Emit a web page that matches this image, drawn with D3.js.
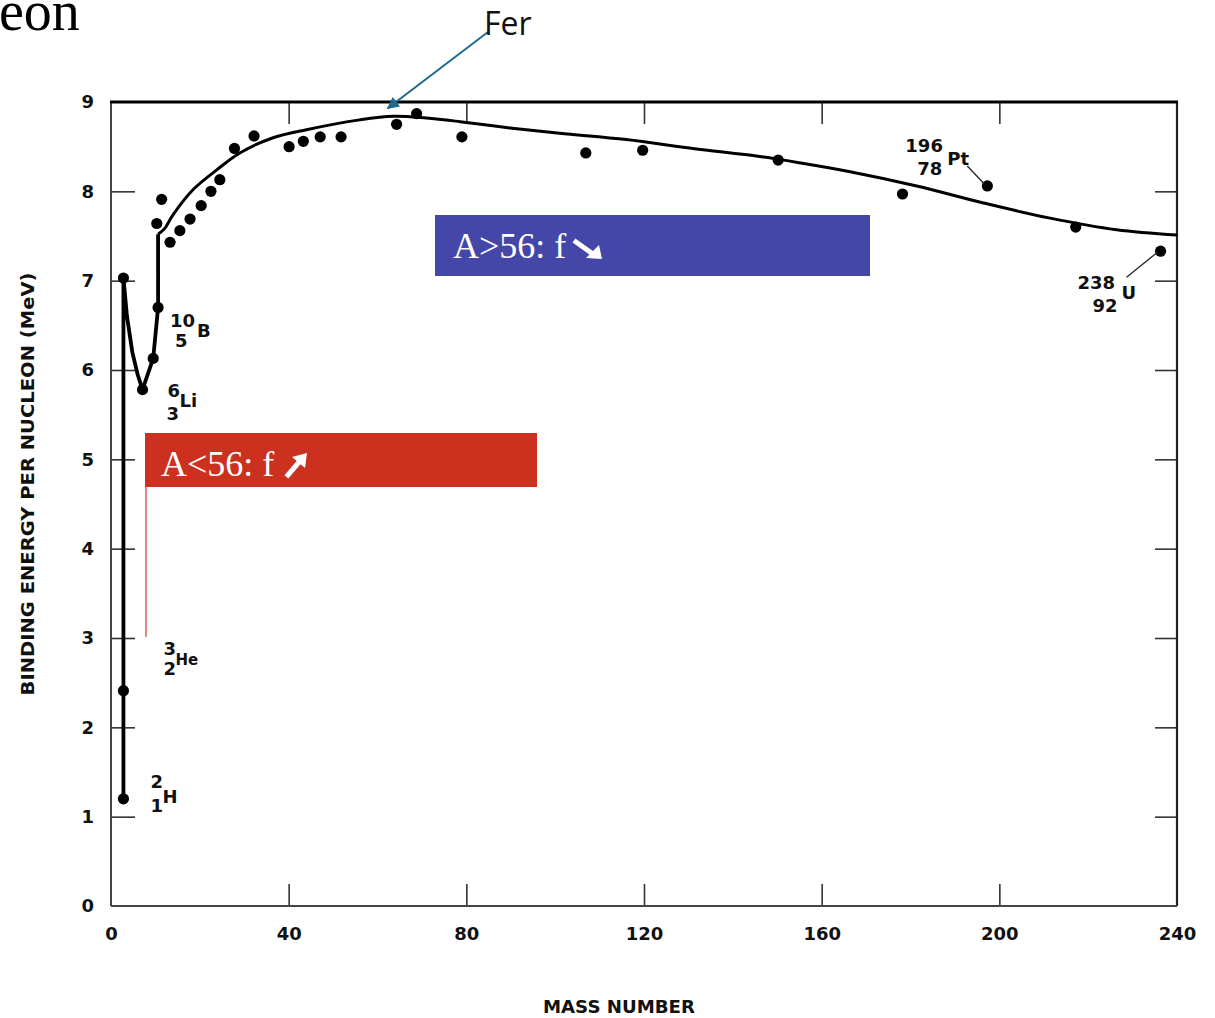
<!DOCTYPE html>
<html>
<head>
<meta charset="utf-8">
<script src="https://cdn.jsdelivr.net/npm/d3@7"></script>
<style>
  html, body { margin: 0; padding: 0; background: #fff; }
  svg { display: block; }
</style>
</head>
<body>
<svg id="chart" width="1215" height="1018"></svg>
<script>
// ---------- DATA ----------
const xTicks = [0, 40, 80, 120, 160, 200, 240];
const yTicks = [0, 1, 2, 3, 4, 5, 6, 7, 8, 9];

// measured nuclides (mass number A, binding energy per nucleon in MeV)
const pointA = [2.8, 2.8, 2.8, 7.1, 9.5, 10.6, 10.3, 11.4, 13.3, 15.5, 17.8, 20.3, 22.5, 24.5, 27.8, 32.2,
                40.1, 43.3, 47.1, 51.8, 64.3, 68.8, 79.0, 106.9, 119.7, 150.2, 178.2, 197.3, 217.2, 236.3];
const pointB = [1.20, 2.41, 7.03, 5.78, 6.13, 6.70, 7.64, 7.91, 7.43, 7.56, 7.69, 7.84, 8.00, 8.13, 8.48, 8.62,
                8.50, 8.56, 8.61, 8.61, 8.75, 8.87, 8.61, 8.43, 8.46, 8.35, 7.97, 8.06, 7.60, 7.33];

// jagged line through the light nuclei
const lightA = [2.8, 2.8, 2.8, 3.6, 4.8, 6.0, 7.1, 9.5, 10.6, 10.6];
const lightB = [1.20, 2.41, 7.03, 6.60, 6.20, 5.95, 5.78, 6.13, 6.70, 7.52];

// smooth trend curve
const curveA = [10.6, 12.0, 14.0, 18.5, 23.8, 29.0, 36.5, 44.0, 56.0, 63.6, 71.0, 78.6, 89.8, 101.0,
                116.0, 131.0, 146.0, 155.0, 166.4, 181.4, 196.4, 211.4, 226.4, 240.0];
const curveB = [7.52, 7.58, 7.74, 8.02, 8.24, 8.43, 8.60, 8.69, 8.80, 8.84, 8.82, 8.78, 8.71, 8.65,
                8.58, 8.48, 8.39, 8.32, 8.22, 8.06, 7.87, 7.70, 7.57, 7.51];

// nuclide labels
const nuclideMass = ["2", "3", "6", "10", "196", "238"];
const nuclideZ    = ["1", "2", "3", "5", "78", "92"];
const nuclideSym  = ["H", "He", "Li", "B", "Pt", "U"];
const nuclideA    = [2.8, 2.8, 7.1, 10.6, 197.3, 236.3];
const nuclideB    = [1.20, 2.41, 5.78, 6.70, 8.06, 7.33];

const xTitle = "MASS NUMBER";
const yTitle = "BINDING ENERGY PER NUCLEON (MeV)";
const pageTitle = "eon";
const ironLabel = "Fer";
const ironA = 62.3, ironB = 8.93;
const boxHigh = "A>56: f";
const boxLow = "A<56: f";

// ---------- LAYOUT ----------
const svg = d3.select("#chart");
const x = d3.scaleLinear().domain([0, 240]).range([111, 1177]);
const y = d3.scaleLinear().domain([0, 9]).range([906, 102]);
const axisFont = "'DejaVu Sans', sans-serif";
const ink = "#111";

// axes (ticks pointing inward)
const gL = svg.append("g").attr("transform", `translate(${x(0)},0)`)
  .call(d3.axisLeft(y).tickValues(yTicks).tickSize(-24).tickSizeOuter(0).tickPadding(17).tickFormat(d3.format("d")));
const gR = svg.append("g").attr("transform", `translate(${x(240)},0)`)
  .call(d3.axisRight(y).tickValues(yTicks.slice(1, 9)).tickSize(-22).tickSizeOuter(0).tickFormat(""));
const gB = svg.append("g").attr("transform", `translate(0,${y(0)})`)
  .call(d3.axisBottom(x).tickValues(xTicks).tickSize(-22).tickSizeOuter(0).tickPadding(21).tickFormat(d3.format("d")));
const gT = svg.append("g").attr("transform", `translate(0,${y(9)})`)
  .call(d3.axisTop(x).tickValues(xTicks.slice(1, 6)).tickSize(-22).tickSizeOuter(0).tickFormat(""));

[gL, gR, gB, gT].forEach(g => {
  g.select(".domain").remove();
  g.selectAll(".tick line").attr("stroke", "#333").attr("stroke-width", 1.6);
  g.selectAll(".tick text").attr("fill", ink).attr("font-family", axisFont)
    .attr("font-weight", "bold").attr("font-size", 18);
});
gL.selectAll(".tick").filter(d => d === 0 || d === 9).select("line").remove();
gB.selectAll(".tick").filter(d => d === 0 || d === 240).select("line").remove();

// frame
svg.append("line").attr("x1", x(0)).attr("x2", x(0)).attr("y1", y(9)).attr("y2", y(0))
  .attr("stroke", "#444").attr("stroke-width", 2);
svg.append("line").attr("x1", x(240)).attr("x2", x(240)).attr("y1", y(9)).attr("y2", y(0))
  .attr("stroke", "#222").attr("stroke-width", 2.2);
svg.append("line").attr("x1", x(0)).attr("x2", x(240)).attr("y1", y(0)).attr("y2", y(0))
  .attr("stroke", "#444").attr("stroke-width", 2);
svg.append("line").attr("x1", x(0) - 1).attr("x2", x(240) + 1).attr("y1", y(9)).attr("y2", y(9))
  .attr("stroke", "#000").attr("stroke-width", 3.2);

// axis titles
svg.append("text").attr("x", 619).attr("y", 1013).attr("text-anchor", "middle")
  .attr("font-family", axisFont).attr("font-weight", "bold").attr("font-size", 17)
  .attr("textLength", 152).attr("lengthAdjust", "spacingAndGlyphs").attr("fill", ink).text(xTitle);
svg.append("text").attr("transform", "translate(34,484) rotate(-90)").attr("text-anchor", "middle")
  .attr("font-family", axisFont).attr("font-weight", "bold").attr("font-size", 17)
  .attr("textLength", 423).attr("lengthAdjust", "spacingAndGlyphs").attr("fill", ink).text(yTitle);

// lines
const lightData = lightA.map((a, i) => [a, lightB[i]]);
const curveData = curveA.map((a, i) => [a, curveB[i]]);
svg.append("path").datum(lightData)
  .attr("d", d3.line().x(d => x(d[0])).y(d => y(d[1])).curve(d3.curveLinear))
  .attr("fill", "none").attr("stroke", "#000").attr("stroke-width", 3.8).attr("stroke-linejoin", "round");
svg.append("path").datum(curveData)
  .attr("d", d3.line().x(d => x(d[0])).y(d => y(d[1])).curve(d3.curveCatmullRom.alpha(0.5)))
  .attr("fill", "none").attr("stroke", "#000").attr("stroke-width", 3);

// points
svg.append("g").selectAll("circle").data(pointA.map((a, i) => [a, pointB[i]])).join("circle")
  .attr("cx", d => x(d[0])).attr("cy", d => y(d[1])).attr("r", 5.6).attr("fill", "#000");

// nuclide labels (offsets from their point, in px)
const labOff = [
  { m: [27, -11], z: [27, 13], s: [39, 4] },
  { m: [40, -36], z: [40, -16], s: [52, -26] },
  { m: [25, 7], z: [24, 30], s: [37, 17] },
  { m: [12, 20], z: [17, 40], s: [39, 30] },
  { m: [-82, -34], z: [-70, -11], s: [-40, -21], lead: [-20, -20, -3, -2] },
  { m: [-83, 38], z: [-68, 61], s: [-39, 48], lead: [-34, 26, -3, 1] }
];
nuclideA.forEach((a, i) => {
  const px = x(a), py = y(nuclideB[i]), o = labOff[i];
  const g = svg.append("g").attr("font-family", axisFont).attr("font-weight", "bold")
    .attr("font-size", 18).attr("fill", ink);
  g.append("text").attr("x", px + o.m[0]).attr("y", py + o.m[1]).text(nuclideMass[i]);
  g.append("text").attr("x", px + o.z[0]).attr("y", py + o.z[1]).text(nuclideZ[i]);
  g.append("text").attr("x", px + o.s[0]).attr("y", py + o.s[1])
    .attr("font-size", nuclideSym[i] === "He" ? 15 : 18).text(nuclideSym[i]);
  if (o.lead) {
    svg.append("line").attr("x1", px + o.lead[0]).attr("y1", py + o.lead[1])
      .attr("x2", px + o.lead[2]).attr("y2", py + o.lead[3])
      .attr("stroke", "#222").attr("stroke-width", 1.3);
  }
});

// ---------- OVERLAYS ----------
// page title fragment (cut at the top edge, as in the source slide)
svg.append("text").attr("x", -1).attr("y", 30).attr("font-family", "'Liberation Serif', serif")
  .attr("font-size", 56).attr("fill", "#000").text(pageTitle);

// iron annotation
const defs = svg.append("defs");
defs.append("marker").attr("id", "ah").attr("viewBox", "0 0 10 10").attr("refX", 9).attr("refY", 5)
  .attr("markerWidth", 7).attr("markerHeight", 6).attr("markerUnits", "strokeWidth").attr("orient", "auto")
  .append("path").attr("d", "M0,0 L10,5 L0,10 z").attr("fill", "#1e6a8d");
svg.append("line").attr("x1", 488).attr("y1", 32).attr("x2", x(ironA)).attr("y2", y(ironB))
  .attr("stroke", "#1e6a8d").attr("stroke-width", 2).attr("marker-end", "url(#ah)");
svg.append("text").attr("x", 484).attr("y", 35).attr("font-family", "'Open Sans', sans-serif")
  .attr("font-size", 32).attr("fill", "#111").text(ironLabel);

// blue box
svg.append("rect").attr("x", 435).attr("y", 215).attr("width", 435).attr("height", 61).attr("fill", "#4447a8");
svg.append("text").attr("x", 453).attr("y", 258).attr("font-family", "'Liberation Serif', serif")
  .attr("font-size", 36).attr("fill", "#fff").text(boxHigh);
// down-right arrow
svg.append("path").attr("d", "M576,242 L593,254").attr("stroke", "#fff").attr("stroke-width", 5).attr("stroke-linecap", "square");
svg.append("path").attr("d", "M602,259 L586,258 L599,245 Z").attr("fill", "#fff");

// red box
svg.append("line").attr("x1", 146).attr("x2", 146).attr("y1", 486).attr("y2", 637)
  .attr("stroke", "#d03a2a").attr("stroke-width", 1.2);
svg.append("rect").attr("x", 145).attr("y", 433).attr("width", 392).attr("height", 54).attr("fill", "#cc3120");
svg.append("text").attr("x", 161).attr("y", 476).attr("font-family", "'Liberation Serif', serif")
  .attr("font-size", 36).attr("fill", "#fff").text(boxLow);
// up-right arrow
svg.append("path").attr("d", "M288,475 L300,461").attr("stroke", "#fff").attr("stroke-width", 5).attr("stroke-linecap", "square");
svg.append("path").attr("d", "M307,453 L305,468 L292,457 Z").attr("fill", "#fff");
</script>
</body>
</html>
